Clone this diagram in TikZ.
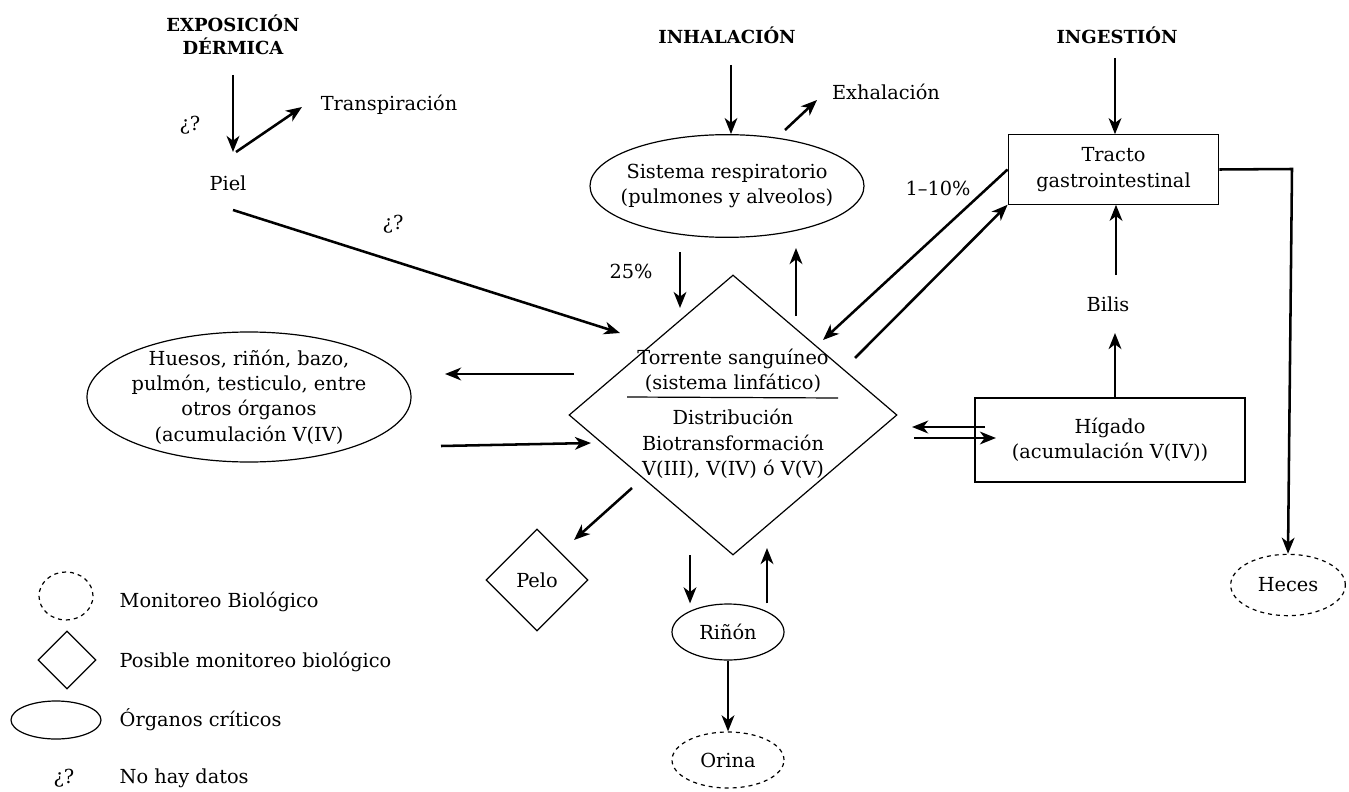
\documentclass[tikz,border=0pt]{standalone}
\usepackage{fontspec}
\setmainfont{DejaVu Serif}
\usetikzlibrary{shapes.geometric,arrows.meta}

\tikzset{
    flecha/.style={-{Stealth[length=12pt,width=9.5pt,inset=3.5pt]}, line width=1.9pt},
    linea/.style={line width=1.9pt},
    organo/.style={ellipse, draw, line width=0.9pt, inner sep=0pt},
    monitoreo/.style={ellipse, draw, dashed, line width=0.9pt, inner sep=0pt},
    posible/.style={diamond, draw, line width=0.9pt, inner sep=0pt},
    caja/.style={rectangle, draw, line width=0.9pt, align=center},
    titulo/.style={font=\fontsize{13.5}{17}\selectfont\bfseries, align=center},
    texto/.style={align=center},
}

\begin{document}
\begin{tikzpicture}[x=0.75pt,y=-0.75pt,font=\fontsize{14.5}{19}\selectfont]
    \useasboundingbox (0,0) rectangle (1349,792);

    % titulos
    \node[titulo] (dermica) at (233,35) {EXPOSICIÓN\\DÉRMICA};
    \node[titulo] (inhal) at (727,35) {INHALACIÓN};
    \node[titulo] (ingest) at (1117,35) {INGESTIÓN};

    % organos
    \node[organo, minimum width=205.5pt, minimum height=77pt] (resp) at (727,186) {};
    \node[texto] (resptxt) at (resp) {Sistema respiratorio\\(pulmones y alveolos)};
    \node[organo, minimum width=243pt, minimum height=97.5pt] (huesos) at (249,397) {};
    \node[texto] (huesostxt) at (huesos) {Huesos, riñón, bazo,\\pulmón, testiculo, entre\\otros órganos\\(acumulación V(IV)};
    \node[organo, minimum width=84pt, minimum height=42pt] (rinon) at (728,632) {Riñón};

    % rombo central
    \node[posible, minimum width=246pt, minimum height=210pt] (sangre) at (733,415) {};
    \node[texto] (torrente) at (733,371) {Torrente sanguíneo\\(sistema linfático)};
    \node[texto] (distrib) at (733,444) {Distribución\\Biotransformación\\V(III), V(IV) ó V(V)};
    \draw[line width=0.9pt] (627,397) -- (838,398);
    \node[posible, minimum size=76.5pt] (pelo) at (537,580) {Pelo};

    % cajas
    \node[caja, minimum width=158pt, minimum height=52pt] (gi) at (1113.5,169.5) {Tracto\\gastrointestinal};
    \node[caja, minimum width=202.5pt, minimum height=63pt] (higado) at (1110,440) {Hígado\\(acumulación V(IV))};

    % monitoreo
    \node[monitoreo, minimum width=84pt, minimum height=42pt] (orina) at (728,760) {Orina};
    \node[monitoreo, minimum width=86pt, minimum height=46pt] (heces) at (1288,585) {Heces};

    % textos sueltos
    \node (piel) at (228,183) {Piel};
    \node (transp) at (389,105) {Transpiración};
    \node (exhal) at (886,92) {Exhalación};
    \node (bilis) at (1108,304) {Bilis};
    \node (nd1) at (190,125) {¿?};
    \node (nd2) at (393,224) {¿?};
    \node (p25) at (631,271) {25\%};
    \node (p10) at (938,188) {1–10\%};

    % extremos libres
    \coordinate (d1) at (233,75);
    \coordinate (d2) at (233,152);
    \coordinate (t1) at (236,152);
    \coordinate (t2) at (302,107);
    \coordinate (pi1) at (233,210);
    \coordinate (pi2) at (620,333);
    \coordinate (in1) at (731,65);
    \coordinate (ex1) at (785,130);
    \coordinate (ex2) at (817,100);
    \coordinate (r1) at (680,252);
    \coordinate (r2) at (680,308);
    \coordinate (r3) at (796,316);
    \coordinate (r4) at (796,248);
    \coordinate (g1) at (823,340);
    \coordinate (g2) at (855,358);
    \coordinate (g3) at (1292,169);
    \coordinate (ig1) at (1115,58);
    \coordinate (b1) at (1115,333);
    \coordinate (b2) at (1116,275);
    \coordinate (h1) at (985,427);
    \coordinate (h2) at (912,427);
    \coordinate (h3) at (914,438);
    \coordinate (h4) at (996,438);
    \coordinate (o1) at (574,374);
    \coordinate (o2) at (445,374);
    \coordinate (o3) at (441,446);
    \coordinate (o4) at (591,443);
    \coordinate (pe1) at (632,488);
    \coordinate (pe2) at (574,540);
    \coordinate (k1) at (690,555);
    \coordinate (k2) at (767,548);

    % flechas
    \draw[flecha] (d1) -- (d2);
    \draw[flecha] (t1) -- (t2);
    \draw[flecha] (pi1) -- (pi2);
    \draw[flecha] (in1) -- (in1 |- resp.north);
    \draw[flecha] (ex1) -- (ex2);
    \draw[flecha] (r1) -- (r2);
    \draw[flecha] (r3) -- (r4);
    \draw[flecha] (gi.west) -- (g1);
    \draw[flecha] (g2) -- (gi.south west);
    \draw[flecha] (gi.east) -- (g3) -- (heces.north);
    \draw[flecha] (ig1) -- (ig1 |- gi.north);
    \draw[flecha] (b1 |- higado.north) -- (b1);
    \draw[flecha] (b2) -- (b2 |- gi.south);
    \draw[flecha] (h1) -- (h2);
    \draw[flecha] (h3) -- (h4);
    \draw[flecha] (o1) -- (o2);
    \draw[flecha] (o3) -- (o4);
    \draw[flecha] (pe1) -- (pe2);
    \draw[flecha] (k1) -- (k1 |- rinon.north);
    \draw[flecha] (k2 |- rinon.north) -- (k2);
    \draw[flecha] (rinon.south) -- (orina.north);

    % leyenda
    \node[monitoreo, minimum width=40.5pt, minimum height=36pt] (lmon) at (66,596) {};
    \node[posible, minimum size=43.5pt] (lpos) at (67,660) {};
    \node[organo, minimum width=67.5pt, minimum height=28.5pt] (lorg) at (56,720) {};
    \node (lnd) at (64,778) {¿?};
    \node[anchor=west] (tmon) at (115,602) {Monitoreo Biológico};
    \node[anchor=west] (tpos) at (115,662) {Posible monitoreo biológico};
    \node[anchor=west] (torg) at (115,720) {Órganos críticos};
    \node[anchor=west] (tnd) at (115,778) {No hay datos};
\end{tikzpicture}
\end{document}
